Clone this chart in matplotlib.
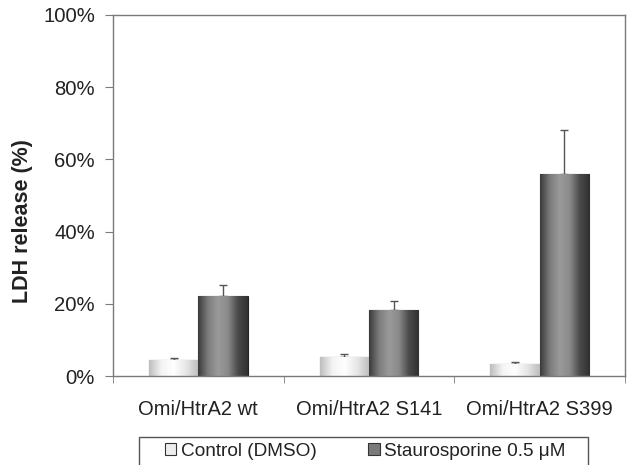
import numpy as np
import matplotlib
matplotlib.use("Agg")
import matplotlib.pyplot as plt
from matplotlib.colors import LinearSegmentedColormap
from matplotlib.patches import Patch, Rectangle

plt.rcParams['font.family'] = ['Liberation Sans', 'DejaVu Sans']

groups = ['Omi/HtrA2 wt', 'Omi/HtrA2 S141', 'Omi/HtrA2 S399']
control = [4.4, 5.3, 3.2]
control_err = [0.6, 0.8, 0.7]
stauro = [22.2, 18.3, 56.0]
stauro_err = [3.1, 2.6, 12.1]
yticks = [0, 20, 40, 60, 80, 100]


def gradient_fill(ax, patches, cmap):
    grad = np.linspace(0, 1, 256).reshape(1, -1)
    for p in patches:
        x0, y0 = p.get_x(), p.get_y()
        w, h = p.get_width(), p.get_height()
        im = ax.imshow(grad, cmap=cmap, aspect='auto', extent=(x0, x0 + w, y0, y0 + h),
                       zorder=p.get_zorder(), interpolation='bilinear')
        im.set_clip_path(p)
        p.set_facecolor('none')


def main():
    fig = plt.figure(figsize=(6.29, 4.65), dpi=100)
    ax = fig.add_axes([113 / 629, 1 - 376 / 465, 512 / 629, 361 / 465])

    x = np.arange(len(groups))
    w = 0.29
    gray = '#7a7a7a'
    txt = '#222222'

    b1 = ax.bar(x - w / 2, control, w, edgecolor='#333333', linewidth=0.8, zorder=2)
    b2 = ax.bar(x + w / 2, stauro, w, edgecolor='#222222', linewidth=0.8, zorder=2)

    cm_ctrl = LinearSegmentedColormap.from_list('c', ['#bdbdbd', '#f4f4f4', '#ffffff', '#e6e6e6', '#bcbcbc'])
    cm_st = LinearSegmentedColormap.from_list('s', ['#3a3a3a', '#7c7c7c', '#9a9a9a', '#8a8a8a', '#4a4a4a', '#303030'])
    gradient_fill(ax, b1, cm_ctrl)
    gradient_fill(ax, b2, cm_st)

    ax.errorbar(x - w / 2, control, yerr=[[0] * 3, control_err], fmt='none',
                ecolor='#555555', elinewidth=1, capsize=3, capthick=1, zorder=1)
    ax.errorbar(x + w / 2, stauro, yerr=[[0] * 3, stauro_err], fmt='none',
                ecolor='#555555', elinewidth=1, capsize=3, capthick=1, zorder=1)

    ax.set_xlim(-0.5, 2.5)
    ax.set_ylim(0, 100)
    ax.set_yticks(yticks)
    ax.set_yticklabels([f'{v}%' for v in yticks], fontsize=14.6, color=txt)
    ax.set_xticks(x)
    ax.set_xticklabels(groups, fontsize=14.5, color=txt)
    ax.set_xticks([-0.5, 0.5, 1.5, 2.5], minor=True)
    ax.tick_params(axis='x', which='major', length=0, pad=17)
    ax.tick_params(axis='x', which='minor', length=5, color=gray, direction='out')
    ax.tick_params(axis='y', length=6, color=gray, direction='out', pad=7)
    for s in ax.spines.values():
        s.set_color(gray)
        s.set_linewidth(1.0)

    ax.set_ylabel('LDH release (%)', fontsize=15.5, fontweight='bold', color=txt)
    ax.yaxis.set_label_coords(-0.156, 0.43)

    # legend box, cut off by the bottom edge as in the original
    fig.patches.append(Rectangle((139 / 629, -0.05), 449 / 629, 0.05 + 1 - 437 / 465,
                                 transform=fig.transFigure, facecolor='none',
                                 edgecolor='#555555', linewidth=1.0))
    handles = [Patch(facecolor='#eeeeee', edgecolor='#333333', linewidth=0.8),
               Patch(facecolor='#7a7a7a', edgecolor='#333333', linewidth=0.8)]
    leg = fig.legend(handles, ['Control (DMSO)', 'Staurosporine 0.5 \u03bcM'], ncol=2,
                     loc='center left', bbox_to_anchor=(165 / 629, 1 - 451 / 465),
                     fontsize=13.7, frameon=False,
                     handlelength=0.6, handleheight=0.6, handletextpad=0.25,
                     columnspacing=2.7, borderpad=0, borderaxespad=0)
    for t in leg.get_texts():
        t.set_color(txt)

    fig.savefig('out.png', dpi=100)


if __name__ == "__main__":
    main()
